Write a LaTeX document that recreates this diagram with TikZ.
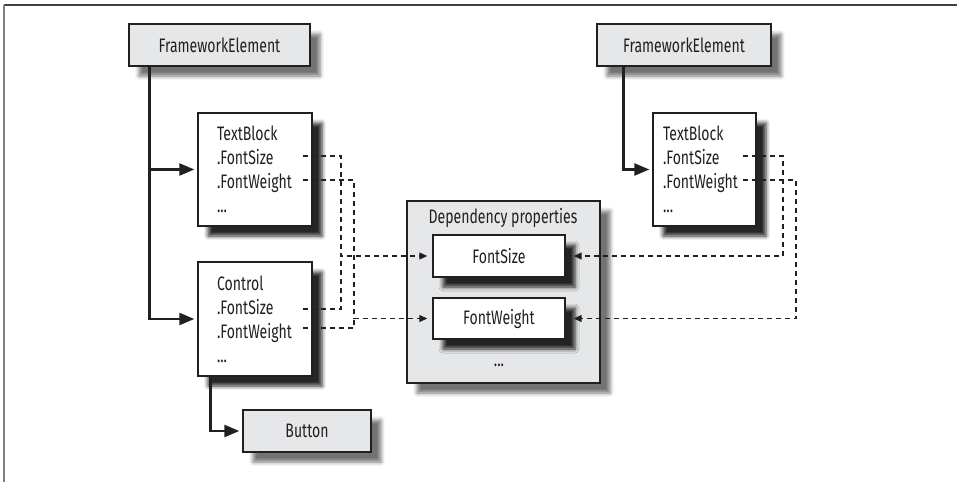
\documentclass[tikz,border=0pt]{standalone}
\usepackage{fontspec}
\setmainfont{Fira Sans}[FakeStretch=0.72]
\usetikzlibrary{shadows.blur,arrows.meta,calc}
\definecolor{boxgray}{HTML}{E6E7E8}
\definecolor{ink}{HTML}{231F20}
\begin{document}
\begin{tikzpicture}[x=1pt,y=-1pt,
  txt/.style={font=\fontsize{19.5}{24}\selectfont, text=ink},
  box/.style={txt, draw=ink, line width=1.4pt, inner sep=0pt},
  graybox/.style={box, fill=boxgray,
    blur shadow={shadow xshift=10pt, shadow yshift=-10pt,
                 shadow blur radius=4pt, shadow opacity=55}},
  whitebox/.style={box, fill=white,
    blur shadow={shadow xshift=10pt, shadow yshift=-10pt,
                 shadow blur radius=4pt, shadow opacity=85}},
  tree/.style={ink, line width=2.4pt, -{Triangle[length=15pt,width=12pt]}, shorten >=3pt},
  link/.style={ink, line width=1.1pt, dash pattern=on 5pt off 4pt},
  linkarrow/.style={link, -{Triangle[length=8pt,width=7pt]}},
]
\useasboundingbox (0,0) rectangle (957,482);

% frame edges
\draw[black!75, line width=1.5pt] (4,5) -- (957,5);
\draw[black!50, line width=1.5pt] (4,5) -- (4,482);

% left hierarchy
\node[graybox, minimum width=181pt, minimum height=42pt] (fe1) at (219.5,45) {FrameworkElement};
\node[whitebox, minimum height=113pt, text width=76pt, inner xsep=19pt, align=left]
  (tb1) at (255,169.5) {TextBlock\\.FontSize\\.FontWeight\\...};
\node[whitebox, minimum height=114pt, text width=76pt, inner xsep=19pt, align=left]
  (ctl) at (255,319) {Control\\.FontSize\\.FontWeight\\...};
\node[graybox, minimum width=128pt, minimum height=42pt] (btn) at (307,431) {Button};

% right hierarchy
\node[graybox, minimum width=174pt, minimum height=42pt] (fe2) at (684,45) {FrameworkElement};
\node[whitebox, minimum height=113pt, text width=83pt, inner xsep=10pt, align=left]
  (tb2) at (704.5,169.5) {TextBlock\\.FontSize\\.FontWeight\\...};

% dependency property store
\node[graybox, minimum width=193pt, minimum height=182pt] (dp) at (503.5,292) {};
\node[txt, anchor=center] (dptitle) at (503,218) {Dependency properties};
\node[whitebox, minimum width=132pt, minimum height=42pt] (fs) at (499,256) {FontSize};
\node[whitebox, minimum width=132pt, minimum height=41pt] (fw) at (499,318.5) {FontWeight};
\node[txt] (dpdots) at (499,365) {...};

% inheritance connectors
\coordinate (t1) at ([xshift=21pt]fe1.south west);
\draw[tree] (t1) |- (ctl.west);
\draw[tree] (t1 |- tb1.west) -- (tb1.west);
\draw[tree] ([xshift=13pt]ctl.south west) |- (btn.west);
\draw[tree] ([xshift=27pt]fe2.south west) |- (tb2.west);

% property references (left)
\coordinate (a1) at (303,156);
\coordinate (a2) at (303,180);
\coordinate (a3) at (303,309);
\coordinate (a4) at (303,328);
\draw[linkarrow, shorten >=5pt] (a1) -- (341,156) |- (fs.west);
\draw[linkarrow, shorten >=5pt] (a2) -- (354,180) |- (fw.west);
\draw[link] (a3) -| (341,256);
\draw[link] (a4) -| (354,319);

% property references (right)
\coordinate (b1) at (743,156);
\coordinate (b2) at (743,180);
\draw[linkarrow, shorten >=8pt] (b1) -- (783,156) |- (fs.east);
\draw[linkarrow, shorten >=8pt] (b2) -- (796,180) |- (fw.east);
\end{tikzpicture}
\end{document}
